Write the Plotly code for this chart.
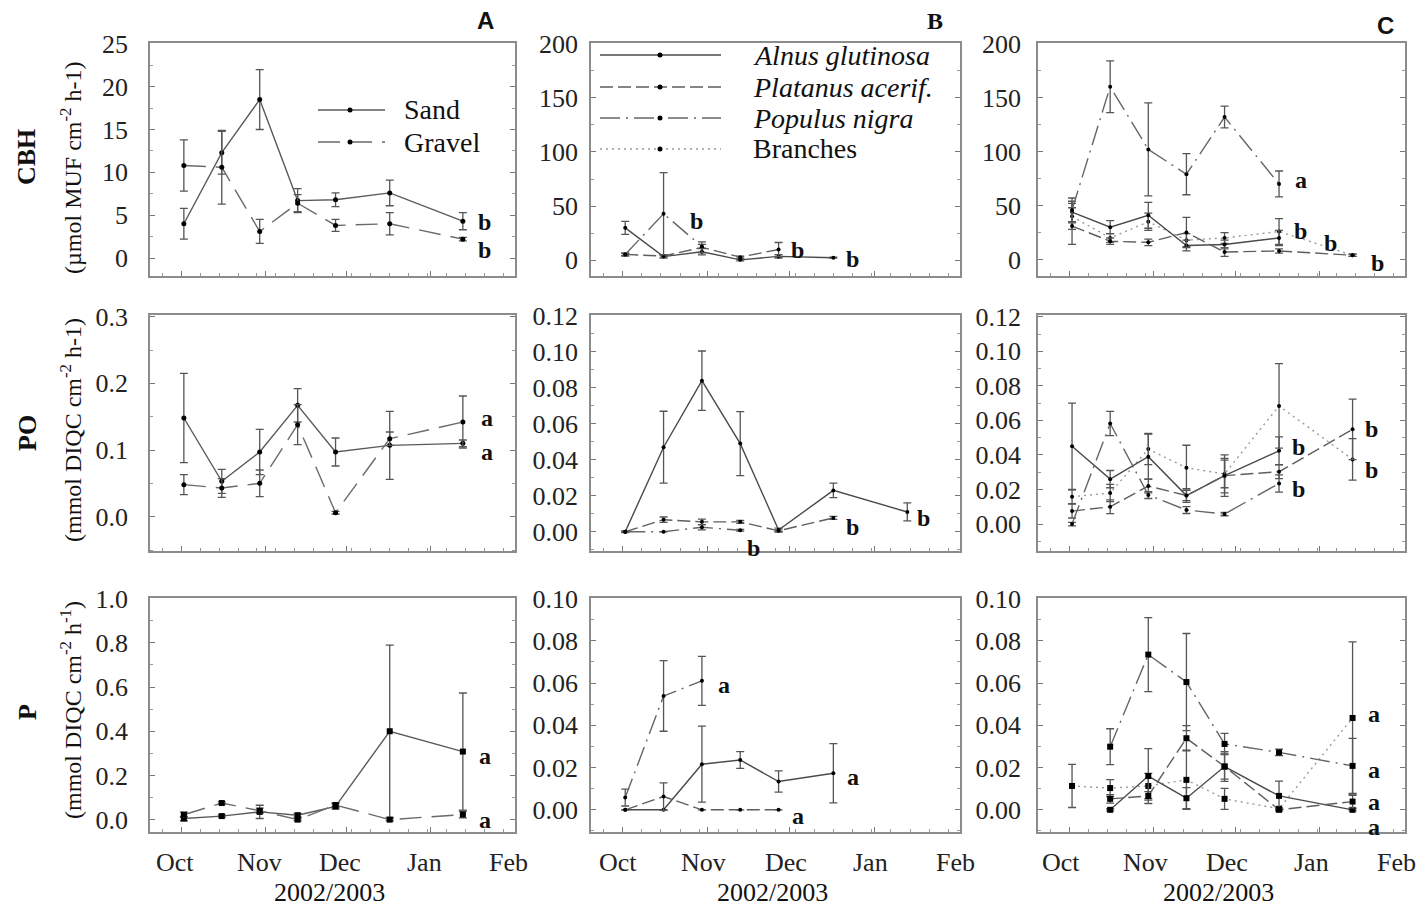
import plotly.graph_objects as go

# page is 1424x910; the html body has an 8px margin, so the figure is drawn 8px in
PAGE_W, PAGE_H = 1424, 910
OFF = 8
W, H = PAGE_W - 2 * OFF, PAGE_H - OFF
SERIF = "Liberation Serif, Times New Roman, serif"
SANS = "Liberation Sans, Arial, sans-serif"

# ---------------- data ----------------
dates = ["2002-10-02", "2002-10-16", "2002-10-30", "2002-11-13",
         "2002-11-27", "2002-12-17", "2003-01-13"]
month_ticks = ["2002-10-01", "2002-11-01", "2002-12-01", "2003-01-01", "2003-02-01"]
month_labels = ["Oct", "Nov", "Dec", "Jan", "Feb"]

# Column A: Sand / Gravel
cbh_sand = [4.0, 12.3, 18.5, 6.7, 6.8, 7.6, 4.3]
cbh_sand_err = [1.8, 2.5, 3.5, 1.4, 0.8, 1.5, 1.0]
cbh_gravel = [10.8, 10.6, 3.1, 6.4, 3.8, 4.0, 2.2]
cbh_gravel_err = [3.0, 4.3, 1.4, 1.0, 0.7, 1.3, 0.2]
po_sand = [0.148, 0.053, 0.097, 0.167, 0.097, 0.107, 0.110]
po_sand_err = [0.067, 0.018, 0.034, 0.025, 0.021, 0.051, 0.005]
po_gravel = [0.048, 0.043, 0.050, 0.138, 0.006, 0.117, 0.142]
po_gravel_err = [0.015, 0.014, 0.020, 0.030, 0.002, 0.010, 0.039]
p_sand = [0.005, 0.016, 0.035, 0.020, 0.060, 0.400, 0.308]
p_sand_err = [0.010, 0.005, 0.030, 0.008, 0.012, 0.390, 0.265]
p_gravel = [0.022, 0.075, 0.040, 0.000, 0.066, 0.000, 0.023]
p_gravel_err = [0.012, 0.005, 0.012, 0.005, 0.010, 0.005, 0.015]

# Column B: gravel leaf species
cbh_alnus_b = [30, 3.5, 8, 0.5, 3.7, 2.5, None]
cbh_alnus_b_err = [6, 1.5, 3, 1, 1.5, 0.5, None]
cbh_platanus_b = [5.5, 4, 12, 3, 10, None, None]
cbh_platanus_b_err = [1.5, 1, 5, 1, 6.5, None, None]
cbh_populus_b = [5.5, 43, 12.8, None, None, None, None]
cbh_populus_b_err = [1, 38, 2, None, None, None, None]

po_alnus_b = [0.0, 0.047, 0.084, 0.049, 0.001, 0.023, 0.011]
po_alnus_b_err = [0.0005, 0.020, 0.0165, 0.0178, 0.001, 0.004, 0.005]
po_platanus_b = [0.0, 0.0067, 0.0055, 0.0055, 0.0005, 0.0077, None]
po_platanus_b_err = [0.0, 0.0015, 0.0015, 0.0008, 0.0005, 0.0008, None]
po_populus_b = [0.0, 0.0, 0.0025, 0.0008, None, None, None]
po_populus_b_err = [0.0, 0.0, 0.0015, 0.0005, None, None, None]

p_alnus_b = [0.0, 0.0, 0.0216, 0.0236, 0.0134, 0.0173, None]
p_alnus_b_err = [0.0, 0.0, 0.018, 0.004, 0.005, 0.014, None]
p_platanus_b = [0.0, 0.0063, 0.0, 0.0, 0.0, None, None]
p_platanus_b_err = [0.0, 0.0065, 0.0, 0.0, 0.0, None, None]
p_populus_b = [0.0058, 0.0539, 0.0611, None, None, None, None]
p_populus_b_err = [0.004, 0.0167, 0.0116, None, None, None, None]

# Column C: sand leaf species + branches
cbh_alnus_c = [44, 30, 41, 13, 14, 20, None]
cbh_alnus_c_err = [10, 6, 12, 5, 4, 7, None]
cbh_platanus_c = [31, 17, 16, 25, 7, 8, 4]
cbh_platanus_c_err = [17, 3, 3, 14, 4, 2, 1]
cbh_populus_c = [46, 160, 102, 79, 132, 70, None]
cbh_populus_c_err = [11, 24, 43, 19, 10, 12, None]
cbh_branches_c = [40, 20, 35, 18, 20, 26, 4]
cbh_branches_c_err = [12, 4, 8, 6, 5, 12, 1]

po_alnus_c = [0.045, 0.026, 0.039, 0.0165, 0.028, 0.0424, None]
po_alnus_c_err = [0.025, 0.005, 0.013, 0.004, 0.012, 0.008, None]
po_platanus_c = [0.0075, 0.010, 0.022, 0.0165, 0.028, 0.0303, 0.0548]
po_platanus_c_err = [0.004, 0.004, 0.004, 0.003, 0.010, 0.004, 0.0175]
po_populus_c = [0.0, 0.0582, 0.0168, 0.0081, 0.0058, 0.0235, None]
po_populus_c_err = [0.001, 0.007, 0.002, 0.002, 0.001, 0.005, None]
po_branches_c = [0.0158, 0.018, 0.0434, 0.0326, 0.029, 0.0684, 0.0374]
po_branches_c_err = [0.004, 0.005, 0.009, 0.013, 0.008, 0.0245, 0.012]

p_alnus_c = [None, 0.0, 0.016, 0.0055, 0.0205, 0.0066, 0.0]
p_alnus_c_err = [None, 0.0005, 0.013, 0.005, 0.007, 0.007, 0.0005]
p_platanus_c = [None, 0.0052, 0.0066, 0.0339, 0.0205, 0.0, 0.0039]
p_platanus_c_err = [None, 0.002, 0.002, 0.006, 0.006, 0.0005, 0.003]
p_populus_c = [None, 0.0299, 0.0735, 0.0605, 0.0312, 0.0272, 0.0208]
p_populus_c_err = [None, 0.0085, 0.0175, 0.023, 0.005, 0.0015, 0.013]
p_branches_c = [0.0113, 0.0103, 0.0113, 0.0142, 0.0052, 0.0005, 0.0435]
p_branches_c_err = [0.0102, 0.004, 0.006, 0.014, 0.005, 0.0005, 0.036]

# significance letters: (row, col, letter, date, value)
letters = [
    (0, 0, "b", "2003-01-21", 4.2), (0, 0, "b", "2003-01-21", 0.9),
    (1, 0, "a", "2003-01-22", 0.1475), (1, 0, "a", "2003-01-22", 0.0975),
    (2, 0, "a", "2003-01-21", 0.286), (2, 0, "a", "2003-01-21", 0.0),
    (0, 1, "b", "2002-10-28", 36), (0, 1, "b", "2002-12-04", 10), (0, 1, "b", "2002-12-24", 1),
    (1, 1, "b", "2002-11-18", -0.0093), (1, 1, "b", "2002-12-24", 0.0024), (1, 1, "b", "2003-01-19", 0.0074),
    (2, 1, "a", "2002-11-07", 0.059), (2, 1, "a", "2002-12-24", 0.0154), (2, 1, "a", "2002-12-04", -0.0028),
    (0, 2, "a", "2002-12-25", 74), (0, 2, "b", "2002-12-25", 26.7), (0, 2, "b", "2003-01-05", 15),
    (0, 2, "b", "2003-01-22", -3.6),
    (1, 2, "b", "2002-12-24", 0.0447), (1, 2, "b", "2002-12-24", 0.020),
    (1, 2, "b", "2003-01-20", 0.0553), (1, 2, "b", "2003-01-20", 0.0312),
    (2, 2, "a", "2003-01-21", 0.0454), (2, 2, "a", "2003-01-21", 0.0189),
    (2, 2, "a", "2003-01-21", 0.0036), (2, 2, "a", "2003-01-21", -0.0080),
]

# ---------------- styles ----------------
STY = {
    "sand": dict(color="#5a5a5a", dash="solid"),
    "gravel": dict(color="#6a6a6a", dash="22px,10px"),
    "alnus": dict(color="#4a4a4a", dash="solid"),
    "platanus": dict(color="#5e5e5e", dash="13px,5px"),
    "populus": dict(color="#666666", dash="20px,6px,2px,6px"),
    "branches": dict(color="#9a9a9a", dash="2px,4px"),
}

# panel frames in page pixels
cols_px = [(150, 515), (591, 960), (1038, 1405)]
rows_px = [(43, 276), (315, 551), (598, 832)]
ystandoff = [15, 6, 10]
month_shift = [-6, -4, -8]
yranges = [[(-2.1, 25.1), (-14.4, 200.5), (-15.2, 200.5)],
           [(-0.0515, 0.3025), (-0.0107, 0.1205), (-0.0156, 0.121)],
           [(-0.056, 1.003), (-0.0105, 0.1003), (-0.0105, 0.1003)]]
ydticks = [[5, 50, 50], [0.1, 0.02, 0.02], [0.2, 0.02, 0.02]]
yfmts = [["d", "d", "d"], [".1f", ".2f", ".2f"], [".1f", ".2f", ".2f"]]


def fx(px):
    return (px - OFF) / W


def fy(py):
    return 1 - (py - OFF) / H


fig = go.Figure()


def ax_idx(r, c):
    return r * 3 + c + 1


def add(r, c, y, err, style, symbol="circle", size=5):
    i = ax_idx(r, c)
    s = STY[style]
    fig.add_trace(go.Scatter(
        x=dates, y=y, mode="lines+markers",
        line=dict(color=s["color"], dash=s["dash"], width=1.4),
        marker=dict(color="black", size=size, symbol=symbol),
        error_y=dict(type="data", array=err, visible=True, color="#555555",
                     thickness=1.3, width=4),
        xaxis="x" if i == 1 else f"x{i}", yaxis="y" if i == 1 else f"y{i}",
        showlegend=False, hoverinfo="skip"))


# Column A
add(0, 0, cbh_sand, cbh_sand_err, "sand")
add(0, 0, cbh_gravel, cbh_gravel_err, "gravel")
add(1, 0, po_sand, po_sand_err, "sand")
add(1, 0, po_gravel, po_gravel_err, "gravel")
add(2, 0, p_sand, p_sand_err, "sand", "square", 6)
add(2, 0, p_gravel, p_gravel_err, "gravel", "square", 6)
# Column B
add(0, 1, cbh_alnus_b, cbh_alnus_b_err, "alnus", size=4)
add(0, 1, cbh_platanus_b, cbh_platanus_b_err, "platanus", size=4)
add(0, 1, cbh_populus_b, cbh_populus_b_err, "populus", size=4)
add(1, 1, po_alnus_b, po_alnus_b_err, "alnus", size=4)
add(1, 1, po_platanus_b, po_platanus_b_err, "platanus", size=4)
add(1, 1, po_populus_b, po_populus_b_err, "populus", size=4)
add(2, 1, p_alnus_b, p_alnus_b_err, "alnus", size=4)
add(2, 1, p_platanus_b, p_platanus_b_err, "platanus", size=4)
add(2, 1, p_populus_b, p_populus_b_err, "populus", size=4)
# Column C
add(0, 2, cbh_branches_c, cbh_branches_c_err, "branches", size=4)
add(0, 2, cbh_alnus_c, cbh_alnus_c_err, "alnus", size=4)
add(0, 2, cbh_platanus_c, cbh_platanus_c_err, "platanus", size=4)
add(0, 2, cbh_populus_c, cbh_populus_c_err, "populus", size=4)
add(1, 2, po_branches_c, po_branches_c_err, "branches", size=4)
add(1, 2, po_alnus_c, po_alnus_c_err, "alnus", size=4)
add(1, 2, po_platanus_c, po_platanus_c_err, "platanus", size=4)
add(1, 2, po_populus_c, po_populus_c_err, "populus", size=4)
add(2, 2, p_branches_c, p_branches_c_err, "branches", "square", 6)
add(2, 2, p_alnus_c, p_alnus_c_err, "alnus", "square", 6)
add(2, 2, p_platanus_c, p_platanus_c_err, "platanus", "square", 6)
add(2, 2, p_populus_c, p_populus_c_err, "populus", "square", 6)

TICKFONT = dict(family=SERIF, size=26, color="#222")

layout = {}
for r in range(3):
    for c in range(3):
        i = ax_idx(r, c)
        xk = "xaxis" if i == 1 else f"xaxis{i}"
        yk = "yaxis" if i == 1 else f"yaxis{i}"
        x0, x1 = cols_px[c]
        y0, y1 = rows_px[r]
        layout[xk] = dict(
            domain=[fx(x0), fx(x1)], type="date", automargin=False,
            range=["2002-09-19 12:00", "2003-02-01 06:00"],
            anchor="y" if i == 1 else f"y{i}",
            tickvals=month_ticks, showticklabels=False,
            ticks="inside", ticklen=5,
            tickcolor="#777", showline=True, linecolor="#8c8c8c", linewidth=1.5,
            mirror=True, showgrid=False, zeroline=False,
            minor=dict(ticks="inside", ticklen=3, tickcolor="#999",
                       dtick=7 * 86400000, tick0="2002-09-17", showgrid=False),
        )
        lo, hi = yranges[r][c]
        layout[yk] = dict(
            domain=[fy(y1), fy(y0)], automargin=False,
            anchor="x" if i == 1 else f"x{i}",
            range=[lo, hi], tick0=0, dtick=ydticks[r][c], tickformat=yfmts[r][c],
            ticks="inside", ticklen=5, tickcolor="#777",
            showline=True, linecolor="#8c8c8c", linewidth=1.5, mirror="allticks",
            showgrid=False, zeroline=False, ticklabelstandoff=ystandoff[c],
            tickfont=TICKFONT,
            minor=dict(ticks="inside", ticklen=3, tickcolor="#999",
                       dtick=ydticks[r][c] / 2, showgrid=False),
        )

annotations = []
shapes = []


def px_ann(x, y, text, size, family=SERIF, angle=0, xanchor="center", color="#111"):
    annotations.append(dict(
        x=fx(x), y=fy(y), xref="paper", yref="paper", text=text,
        showarrow=False, textangle=angle, xanchor=xanchor, yanchor="middle",
        font=dict(family=family, size=size, color=color)))


# panel letters
px_ann(485, 21, "<b>A</b>", 24, SANS)
px_ann(935, 21, "<b>B</b>", 24, SERIF)
px_ann(1385, 26, "<b>C</b>", 24, SANS)

# row titles
px_ann(27, 157, "<b>CBH</b>", 26, SERIF, -90)
px_ann(71, 168, "(µmol MUF cm<sup>-2</sup> h-1)", 24, SERIF, -90)
px_ann(27, 433, "<b>PO</b>", 26, SERIF, -90)
px_ann(71, 430, "(mmol DIQC cm<sup>-2</sup> h-1)", 24, SERIF, -90)
px_ann(27, 712, "<b>P</b>", 26, SERIF, -90)
px_ann(71, 710, "(mmol DIQC cm<sup>-2</sup> h<sup>-1</sup>)", 24, SERIF, -90)

# month labels (bottom row) and x titles
for c, (x0, x1) in enumerate(cols_px):
    i = ax_idx(2, c)
    for d, lab in zip(month_ticks, month_labels):
        annotations.append(dict(
            x=d, y=fy(862), xref=f"x{i}", yref="paper", text=lab,
            showarrow=False, xanchor="center", yanchor="middle",
            xshift=month_shift[c],
            font=dict(family=SERIF, size=26, color="#222")))
    px_ann((x0 + x1) / 2 - 3, 892, "2002/2003", 26, SERIF)

# significance letters
for r, c, t, d, v in letters:
    i = ax_idx(r, c)
    annotations.append(dict(
        x=d, y=v, xref="x" if i == 1 else f"x{i}", yref="y" if i == 1 else f"y{i}",
        text=f"<b>{t}</b>", showarrow=False, xanchor="center", yanchor="middle",
        font=dict(family=SERIF, size=24, color="#111")))


# legends (decoration)
def leg_item(xa, xb, xm, y, style, label, tx, size):
    s = STY[style]
    shapes.append(dict(type="line", xref="paper", yref="paper",
                       x0=fx(xa), x1=fx(xb), y0=fy(y), y1=fy(y),
                       line=dict(color=s["color"], width=1.4, dash=s["dash"])))
    shapes.append(dict(type="circle", xref="paper", yref="paper",
                       x0=fx(xm - 2.5), x1=fx(xm + 2.5),
                       y0=fy(y + 2.5), y1=fy(y - 2.5),
                       fillcolor="black", line=dict(width=0)))
    px_ann(tx, y, label, size, SERIF, xanchor="left")


leg_item(318, 385, 350, 110, "sand", "Sand", 402, 28)
leg_item(318, 385, 350, 142, "gravel", "Gravel", 402, 28)
leg_item(600, 721, 660, 55, "alnus", "<i>Alnus glutinosa</i>", 751, 28)
leg_item(600, 721, 660, 87, "platanus", "<i>Platanus acerif.</i>", 751, 28)
leg_item(600, 721, 660, 118, "populus", "<i>Populus nigra</i>", 751, 28)
leg_item(600, 721, 660, 149, "branches", "Branches", 751, 28)

fig.update_layout(
    width=W, height=H, margin=dict(l=0, r=0, t=0, b=0, autoexpand=False),
    paper_bgcolor="white", plot_bgcolor="white",
    showlegend=False, annotations=annotations, shapes=shapes,
    font=dict(family=SERIF, color="#222"),
    **layout)

fig.write_html("out.html")
